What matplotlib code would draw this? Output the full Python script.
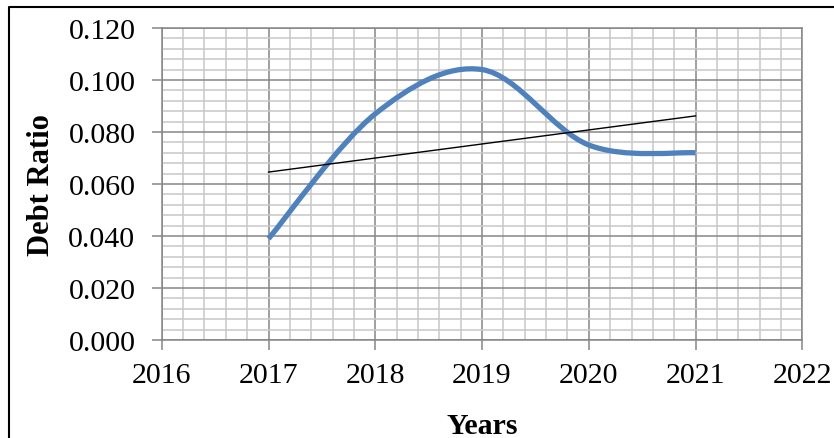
import matplotlib
matplotlib.use("Agg")
import matplotlib.pyplot as plt
from matplotlib.lines import Line2D
from matplotlib.path import Path
from matplotlib.patches import PathPatch
from matplotlib.ticker import MultipleLocator, FormatStrFormatter
import numpy as np

years = [2017, 2018, 2019, 2020, 2021]
debt_ratio = [0.039, 0.087, 0.104, 0.075, 0.072]

LINE_BLUE = "#4f81bd"
MAJOR_GRID = "#868686"
MINOR_GRID = "#c8c8c8"


def smooth_path(x, y):
    # Bezier segments with Catmull-Rom tangents (spreadsheet-style smoothed line)
    pts = np.column_stack([x, y]).astype(float)
    padded = np.vstack([pts[0], pts, pts[-1]])
    verts = [pts[0]]
    codes = [Path.MOVETO]
    for i in range(len(pts) - 1):
        p0, p1, p2, p3 = padded[i], padded[i + 1], padded[i + 2], padded[i + 3]
        verts += [p1 + (p2 - p0) / 6, p2 - (p3 - p1) / 6, p2]
        codes += [Path.CURVE4] * 3
    return Path(verts, codes)


plt.rcParams["font.family"] = ["Liberation Serif", "DejaVu Serif"]

fig = plt.figure(figsize=(8.34, 4.39), dpi=100)
ax = fig.add_axes([0.194, 0.223, 0.768, 0.711])

ax.set_xlim(2016, 2022)
ax.set_ylim(0, 0.12)
ax.xaxis.set_major_locator(MultipleLocator(1))
ax.xaxis.set_minor_locator(MultipleLocator(0.2))
ax.yaxis.set_major_locator(MultipleLocator(0.02))
ax.yaxis.set_minor_locator(MultipleLocator(0.004))
ax.yaxis.set_major_formatter(FormatStrFormatter("%.3f"))

ax.grid(which="minor", color=MINOR_GRID, lw=1.1, zorder=0)
ax.grid(which="major", color=MAJOR_GRID, lw=1.1, zorder=0)
ax.set_axisbelow(True)
for side in ax.spines:
    ax.spines[side].set_color(MAJOR_GRID)
    ax.spines[side].set_linewidth(1.1)

ax.tick_params(which="major", direction="out", length=7, width=1.1,
               color=MAJOR_GRID, labelsize=21.5, labelcolor="black")
ax.tick_params(axis="y", pad=12)
ax.tick_params(axis="x", pad=9)
ax.tick_params(which="minor", length=0)

# smoothed series
ax.add_patch(PathPatch(smooth_path(years, debt_ratio), fill=False,
                       edgecolor=LINE_BLUE, lw=3.8, capstyle="butt", zorder=3))

# linear trend
slope, intercept = np.polyfit(years, debt_ratio, 1)
trend_x = np.array([years[0], years[-1]])
ax.plot(trend_x, slope * trend_x + intercept, color="black", lw=1.0, zorder=4)

ax.set_xlabel("Years", fontsize=21.5, fontweight="bold", labelpad=17)
ax.set_ylabel("Debt Ratio", fontsize=22, fontweight="bold", labelpad=9)

# outer chart border
bx, by = 9 / 834, 1 - 8 / 439
fig.add_artist(Line2D([bx, bx, 1.0], [0.0, by, by], transform=fig.transFigure,
                      color="black", lw=1.5))

fig.savefig("out.png", dpi=100)
